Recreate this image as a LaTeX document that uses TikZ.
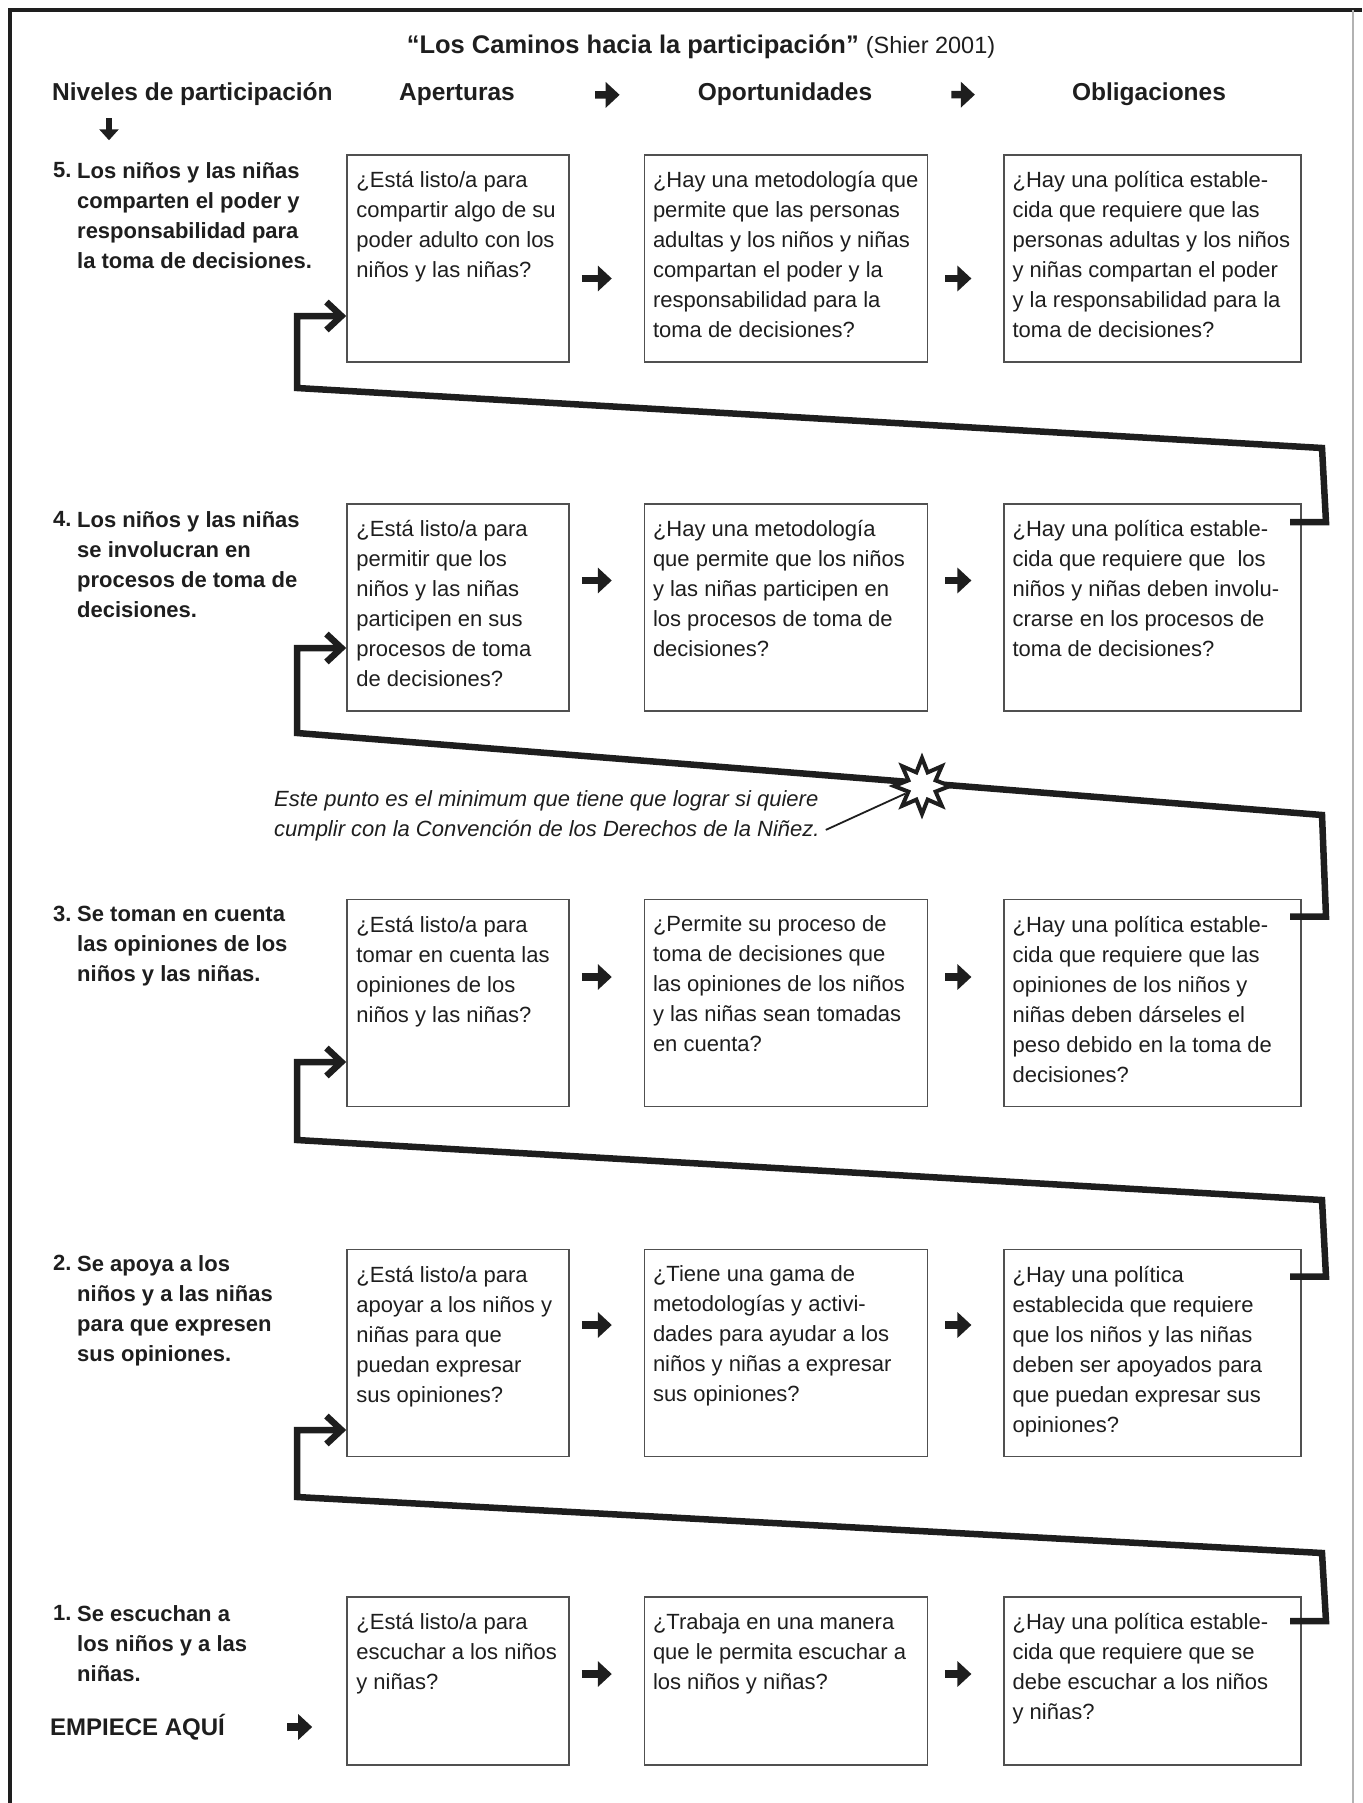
\documentclass[tikz,border=0pt]{standalone}
\usepackage{fontspec}
\setmainfont{Liberation Sans}
\usetikzlibrary{shapes.geometric, arrows.meta, positioning}
\definecolor{tinta}{RGB}{30, 30, 30}
\definecolor{marco}{RGB}{80, 80, 80}

\begin{document}
\begin{tikzpicture}[
            x=1pt, y=-1pt,
            caja/.style={rectangle, draw=marco, line width=1.6pt, minimum height=207pt, inner sep=0pt},
            ca/.style={caja, minimum width=222pt},
            co/.style={caja, minimum width=283pt},
            cb/.style={caja, minimum width=297pt},
            pregunta/.style={anchor=north west, inner sep=0pt, align=left, text=tinta, font=\fontsize{22}{30}\selectfont},
            nivel/.style={anchor=north west, inner sep=0pt, align=left, text=tinta, font=\bfseries\fontsize{22}{30}\selectfont},
            encabezado/.style={anchor=base, inner sep=0pt, text=tinta, font=\bfseries\fontsize{24.5}{30}\selectfont},
            nota/.style={anchor=north west, inner sep=0pt, align=left, text=tinta, font=\itshape\fontsize{22}{30}\selectfont},
            paso/.style={-{Triangle[length=14pt, width=25pt]}, line width=7.5pt, tinta},
            camino/.style={-{Straight Barb[length=15pt, width=28pt]}, line width=6.5pt, tinta}
        ]
            \useasboundingbox (0,0) rectangle (1362,1803);
            % Frame
            \draw[line width=3.5pt, tinta] (10,1803) -- (10,10) -- (1362,10);
            \draw[line width=1.2pt, black!30] (1353,10) -- (1353,1803);

            % Title and headers
            \node[encabezado, font=\bfseries\fontsize{25.5}{30}\selectfont] (titulo) at (701,54) {“Los Caminos hacia la participación” {\mdseries\fontsize{23.5}{30}\selectfont(Shier 2001)}};
            \node[encabezado, anchor=base west] (niveles) at (52,101) {Niveles de participación};
            \node[encabezado] (aperturas) at (457,101) {Aperturas};
            \node[encabezado] (oportunidades) at (785,101) {Oportunidades};
            \node[encabezado] (obligaciones) at (1149,101) {Obligaciones};
            \draw[paso, shorten <=80pt, shorten >=78pt] (aperturas.east) -- (oportunidades.west);
            \draw[paso, shorten <=79pt, shorten >=97pt] (oportunidades.east) -- (obligaciones.west);
            \draw[paso, -{Triangle[length=11pt, width=19pt]}, line width=6pt] ([shift={(57,12)}]niveles.south west) -- ++(0,22);

            % Boxes
            \foreach \r/\y/\h in {5/258.5/207, 4/607.5/207, 3/1003/207, 2/1353/207, 1/1681/168} {
                \node[ca, minimum height=\h pt] (a\r) at (458,\y) {};
                \node[co, minimum height=\h pt, right=74pt of a\r] (o\r) {};
                \node[cb, minimum height=\h pt, right=75pt of o\r] (b\r) {};
            }

            % Questions
            \node[pregunta] (ta5) at ([shift={(10,17)}]a5.north west) {¿Está listo/a para\\compartir algo de su\\poder adulto con los\\niños y las niñas?};
            \node[pregunta] (to5) at ([shift={(9,17)}]o5.north west) {¿Hay una metodología que\\permite que las personas\\adultas y los niños y niñas\\compartan el poder y la\\responsabilidad para la\\toma de decisiones?};
            \node[pregunta] (tb5) at ([shift={(9,17)}]b5.north west) {¿Hay una política estable-\\cida que requiere que las\\personas adultas y los niños\\y niñas compartan el poder\\y la responsabilidad para la\\toma de decisiones?};
            \node[pregunta] (ta4) at ([shift={(10,17)}]a4.north west) {¿Está listo/a para\\permitir que los\\niños y las niñas\\participen en sus\\procesos de toma\\de decisiones?};
            \node[pregunta] (to4) at ([shift={(9,17)}]o4.north west) {¿Hay una metodología\\que permite que los niños\\y las niñas participen en\\los procesos de toma de\\decisiones?};
            \node[pregunta] (tb4) at ([shift={(9,17)}]b4.north west) {¿Hay una política estable-\\cida que requiere que \ los\\niños y niñas deben involu-\\crarse en los procesos de\\toma de decisiones?};
            \node[pregunta] (ta3) at ([shift={(10,17)}]a3.north west) {¿Está listo/a para\\tomar en cuenta las\\opiniones de los\\niños y las niñas?};
            \node[pregunta] (to3) at ([shift={(9,17)}]o3.north west) {¿Permite su proceso de\\toma de decisiones que\\las opiniones de los niños\\y las niñas sean tomadas\\en cuenta?};
            \node[pregunta] (tb3) at ([shift={(9,17)}]b3.north west) {¿Hay una política estable-\\cida que requiere que las\\opiniones de los niños y\\niñas deben dárseles el\\peso debido en la toma de\\decisiones?};
            \node[pregunta] (ta2) at ([shift={(10,17)}]a2.north west) {¿Está listo/a para\\apoyar a los niños y\\niñas para que\\puedan expresar\\sus opiniones?};
            \node[pregunta] (to2) at ([shift={(9,17)}]o2.north west) {¿Tiene una gama de\\metodologías y activi-\\dades para ayudar a los\\niños y niñas a expresar\\sus opiniones?};
            \node[pregunta] (tb2) at ([shift={(9,17)}]b2.north west) {¿Hay una política\\establecida que requiere\\que los niños y las niñas\\deben ser apoyados para\\que puedan expresar sus\\opiniones?};
            \node[pregunta] (ta1) at ([shift={(10,17)}]a1.north west) {¿Está listo/a para\\escuchar a los niños\\y niñas?};
            \node[pregunta] (to1) at ([shift={(9,17)}]o1.north west) {¿Trabaja en una manera\\que le permita escuchar a\\los niños y niñas?};
            \node[pregunta] (tb1) at ([shift={(9,17)}]b1.north west) {¿Hay una política estable-\\cida que requiere que se\\debe escuchar a los niños\\y niñas?};

            % Levels
            \node[nivel] (k5) at (53,162) {5.};
            \node[nivel] (n5) at (77,162) {Los niños y las niñas\\comparten el poder y\\responsabilidad para\\la toma de decisiones.};
            \node[nivel] (k4) at (53,511) {4.};
            \node[nivel] (n4) at (77,511) {Los niños y las niñas\\se involucran en\\procesos de toma de\\decisiones.};
            \node[nivel] (k3) at (53,906) {3.};
            \node[nivel] (n3) at (77,906) {Se toman en cuenta\\las opiniones de los\\niños y las niñas.};
            \node[nivel] (k2) at (53,1255) {2.};
            \node[nivel] (n2) at (77,1255) {Se apoya a los\\niños y a las niñas\\para que expresen\\sus opiniones.};
            \node[nivel] (k1) at (53,1605) {1.};
            \node[nivel] (n1) at (77,1605) {Se escuchan a\\los niños y a las\\niñas.};
            \node[nivel, anchor=west, font=\bfseries\fontsize{24}{30}\selectfont] (empiece) at (50,1727) {EMPIECE AQUÍ};

            % Arrows
            \draw[paso, shorten <=62pt, shorten >=34pt] (empiece.east) -- (empiece.east -| a1.west);
            \foreach \r/\d in {5/20, 4/-27, 3/-26, 2/-28, 1/-7} {
                \draw[paso, shorten <=12pt, shorten >=32pt] ([shift={(0,\d)}]a\r.east) -- ([shift={(0,\d)}]o\r.west);
                \draw[paso, shorten <=17pt, shorten >=32pt] ([shift={(0,\d)}]o\r.east) -- ([shift={(0,\d)}]b\r.west);
            }
            \foreach \desde/\hasta/\dy/\arriba/\izq/\dz in {1/2/25/1553/1497/77, 2/3/28/1200/1140/59, 3/4/18/815/733/40.5, 4/5/19/448/388/57.5}
                \draw[camino] ([shift={(-12,\dy)}]b\desde.north east) -- ++(36,0) -- (1322,\arriba) -- (297,\izq) |- ([shift={(0,\dz)}]a\hasta.west);

            % Minimum point
            \node[star, star points=8, star point ratio=1.9, minimum size=56pt, inner sep=0pt, draw=tinta, fill=white, line width=4pt] (estrella) at (922,786) {};
            \node[nota] (nota) at (274,790) {Este punto es el minimum que tiene que lograr si quiere\\cumplir con la Convención de los Derechos de la Niñez.};
            \draw[line width=1.8pt, tinta] ([shift={(6,-11)}]nota.south east) -- (estrella);
        \end{tikzpicture}
\end{document}
